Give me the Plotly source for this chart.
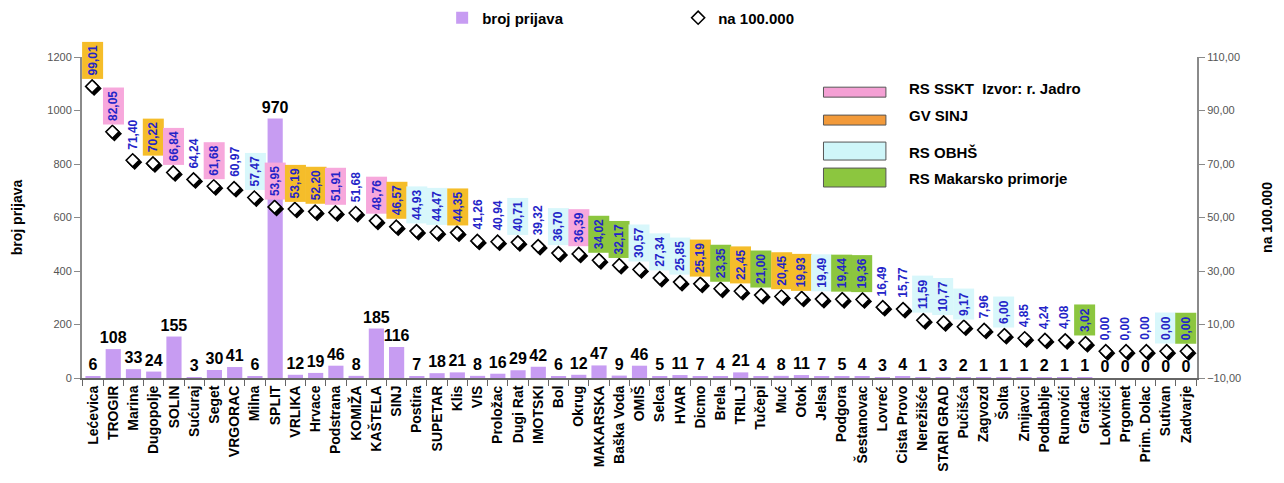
import plotly.graph_objects as go

opcine = ['Lećevica', 'TROGIR', 'Marina', 'Dugopolje', 'SOLIN', 'Sućuraj', 'Seget', 'VRGORAC', 'Milna',
          'SPLIT', 'VRLIKA', 'Hrvace', 'Podstrana', 'KOMIŽA', 'KAŠTELA', 'SINJ', 'Postira', 'SUPETAR',
          'Klis', 'VIS', 'Proložac', 'Dugi Rat', 'IMOTSKI', 'Bol', 'Okrug', 'MAKARSKA', 'Baška Voda',
          'OMIŠ', 'Selca', 'HVAR', 'Dicmo', 'Brela', 'TRILJ', 'Tučepi', 'Muć', 'Otok', 'Jelsa',
          'Podgora', 'Šestanovac', 'Lovreć', 'Cista Provo', 'Nerežišće', 'STARI GRAD', 'Pučišća',
          'Zagvozd', 'Šolta', 'Zmijavci', 'Podbablje', 'Runovići', 'Gradac', 'Lokvičići', 'Prgomet',
          'Prim. Dolac', 'Sutivan', 'Zadvarje']

broj_prijava = [6, 108, 33, 24, 155, 3, 30, 41, 6, 970, 12, 19, 46, 8, 185, 116, 7, 18, 21, 8, 16, 29,
                42, 6, 12, 47, 9, 46, 5, 11, 7, 4, 21, 4, 8, 11, 7, 5, 4, 3, 4, 1, 3, 2, 1, 1, 1, 2, 1, 1,
                0, 0, 0, 0, 0]

na_100000 = [99.01, 82.05, 71.40, 70.22, 66.84, 64.24, 61.68, 60.97, 57.47, 53.95, 53.19, 52.20, 51.91,
             51.68, 48.76, 46.57, 44.93, 44.47, 44.35, 41.26, 40.94, 40.71, 39.32, 36.70, 36.39, 34.02,
             32.17, 30.57, 27.34, 25.85, 25.19, 23.35, 22.45, 21.00, 20.45, 19.93, 19.49, 19.44, 19.36,
             16.49, 15.77, 11.59, 10.77, 9.17, 7.96, 6.00, 4.85, 4.24, 4.08, 3.02, 0.00, 0.00, 0.00,
             0.00, 0.00]

# vodoopskrbni sustav za boju oznake
sustav = ['SINJ', 'SSKT', '', 'SINJ', 'SSKT', '', 'SSKT', '', 'OBHS', 'SSKT', 'SINJ', 'SINJ', 'SSKT', '',
          'SSKT', 'SINJ', 'OBHS', 'OBHS', 'SINJ', '', '', 'OBHS', '', 'OBHS', 'SSKT', 'MAK', 'MAK', 'OBHS',
          'OBHS', 'OBHS', 'SINJ', 'MAK', 'SINJ', 'MAK', 'SINJ', 'SINJ', 'OBHS', 'MAK', 'MAK', '', '',
          'OBHS', 'OBHS', 'OBHS', '', 'OBHS', '', '', '', 'MAK', '', '', '', 'OBHS', 'MAK']

legenda_sustava = ['RS SSKT  Izvor: r. Jadro', 'GV SINJ', 'RS OBHŠ', 'RS Makarsko primorje']

boje_oznaka = {'SSKT': '#f7a8dc', 'SINJ': '#f5bd2a', 'OBHS': '#d8f7fb', 'MAK': '#8cc63f', '': 'rgba(255,255,255,0)'}
boje_legende = ['#f4a0d4', '#f29a3a', '#cff6f9', '#8cc63f']

FONT = 'Liberation Sans, Arial, sans-serif'

# dimenzije podrucja grafa u px (za pomak sjene)
SIRINA, VISINA = 1115, 321
POMAK = 2.0
n = len(opcine)

fig = go.Figure()
fig.add_trace(go.Bar(x=opcine, y=broj_prijava, name='broj prijava',
                     marker=dict(color='#c79cf2', line=dict(width=0)),
                     text=[str(v) for v in broj_prijava], textposition='outside', constraintext='none',
                     textfont=dict(family=FONT, size=16, color='black', weight='bold'),
                     cliponaxis=False))
# sjena rombova
fig.add_trace(go.Scatter(x=opcine, y=na_100000, xaxis='x3', yaxis='y3', mode='markers', showlegend=False,
                         marker=dict(symbol='diamond', size=10, color='black',
                                     line=dict(color='black', width=1.6)),
                         cliponaxis=False, hoverinfo='skip'))
fig.add_trace(go.Scatter(x=opcine, y=na_100000, name='na 100.000', xaxis='x4', yaxis='y4', mode='markers',
                         marker=dict(symbol='diamond', size=10, color='white',
                                     line=dict(color='black', width=1.6)),
                         cliponaxis=False))

for o, v, s in zip(opcine, na_100000, sustav):
    fig.add_annotation(x=o, y=v, xref='x', yref='y2', text=f'{v:.2f}'.replace('.', ','),
                       textangle=-90, showarrow=False, yanchor='bottom', yshift=7,
                       bgcolor=boje_oznaka[s], borderpad=3,
                       font=dict(family=FONT, size=12, color='#2424c8', weight='bold'))

# legenda vodoopskrbnih sustava
pravokutnici = [(0.875, 0.906), (0.788, 0.819), (0.679, 0.735), (0.595, 0.654)]
tekst_y = [0.903, 0.819, 0.704, 0.623]
for naziv, boja, (y0, y1), ty in zip(legenda_sustava, boje_legende, pravokutnici, tekst_y):
    fig.add_shape(type='rect', xref='paper', yref='paper', x0=0.665, x1=0.721, y0=y0, y1=y1,
                  fillcolor=boja, line=dict(color='#555555', width=1))
    fig.add_annotation(x=0.740, y=ty, xref='paper', yref='paper', text=naziv, showarrow=False,
                       xanchor='left', yanchor='middle',
                       font=dict(family=FONT, size=15, color='black', weight='bold'))

naslov = dict(family=FONT, size=14, color='black', weight='bold')
fig.update_layout(
    width=1276, height=475,
    margin=dict(l=74, r=87, t=49, b=105, autoexpand=False),
    paper_bgcolor='white', plot_bgcolor='rgba(0,0,0,0)',
    separators=',.',
    bargap=0.25,
    font=dict(family=FONT, color='black'),
    legend=dict(orientation='h', x=0.323, xanchor='left', yref='container', y=0.979, yanchor='middle',
                font=dict(family=FONT, size=15, color='black', weight='bold'), entrywidth=191),
    xaxis=dict(tickangle=-90, tickfont=dict(family=FONT, size=14, color='black', weight='bold'),
               showline=True, linecolor='#666666', linewidth=2, ticks='outside', tickson='boundaries',
               ticklen=6, tickcolor='#666666', showgrid=False, automargin=False),
    yaxis=dict(range=[0, 1200], dtick=200, showgrid=False, zeroline=False, showline=True,
               linecolor='#8a8a8a', linewidth=2, ticks='outside', ticklen=6, tickcolor='#8a8a8a',
               tickfont=dict(family=FONT, size=11, color='#555555'), automargin=False,
               title=dict(text='broj prijava', font=naslov, standoff=21)),
    yaxis2=dict(range=[-10, 110], tick0=-10, dtick=20, overlaying='y', side='right', showgrid=False,
                zeroline=False, showline=True, linecolor='#8a8a8a', linewidth=2, ticks='outside',
                ticklen=6, tickcolor='#8a8a8a', tickformat='.2f', automargin=False,
                tickfont=dict(family=FONT, size=11, color='#555555'),
                title=dict(text='na 100.000', font=naslov, standoff=22)),
    # osi za sjenu, pomaknute za POMAK px desno i dolje
    xaxis3=dict(domain=[POMAK / SIRINA, 1], range=[-0.5, -0.5 + (SIRINA - POMAK) * n / SIRINA],
                anchor='y3', visible=False),
    yaxis3=dict(domain=[0, 1 - POMAK / VISINA], range=[-10 + POMAK * 120 / VISINA, 110],
                anchor='x3', visible=False),
    xaxis4=dict(domain=[0, 1], range=[-0.5, n - 0.5], anchor='y4', visible=False),
    yaxis4=dict(domain=[0, 1], range=[-10, 110], anchor='x4', visible=False),
)

fig.write_html('out.html')
